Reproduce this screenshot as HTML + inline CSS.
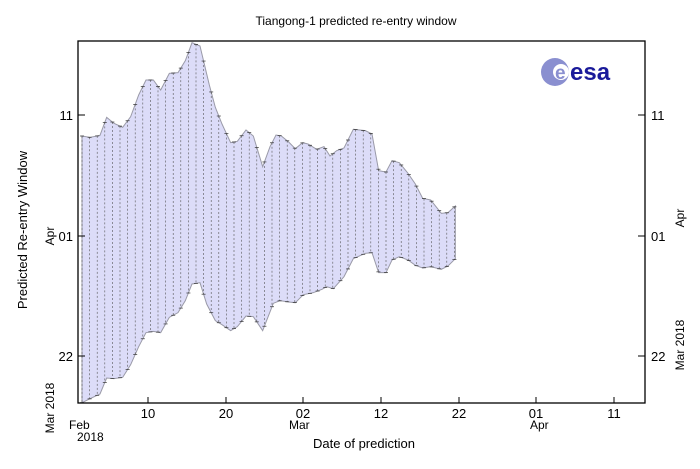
<!DOCTYPE html>
<html><head><meta charset="utf-8"><style>
body{margin:0;background:#fff;}
svg{display:block;font-family:"Liberation Sans",sans-serif;}
</style></head><body>
<svg id="s" width="700" height="469" viewBox="0 0 700 469" xmlns="http://www.w3.org/2000/svg">
<g id="plot"></g>
<rect x="78" y="41" width="567" height="362" fill="none" stroke="#000" stroke-width="1.3"/>
<text x="356" y="25" font-size="12" text-anchor="middle">Tiangong-1 predicted re-entry window</text>
<text x="364" y="448" font-size="13" text-anchor="middle">Date of prediction</text>
<text transform="translate(27,230) rotate(-90)" font-size="13" text-anchor="middle">Predicted Re-entry Window</text>
<g font-size="13">
<text x="148" y="418" text-anchor="middle">10</text>
<text x="226" y="418" text-anchor="middle">20</text>
<text x="303" y="418" text-anchor="middle">02</text>
<text x="381" y="418" text-anchor="middle">12</text>
<text x="459" y="418" text-anchor="middle">22</text>
<text x="536" y="418" text-anchor="middle">01</text>
<text x="614" y="418" text-anchor="middle">11</text>
<text x="69" y="429" font-size="12">Feb</text>
<text x="77" y="441" font-size="12">2018</text>
<text x="289" y="429" font-size="12">Mar</text>
<text x="530" y="429" font-size="12">Apr</text>
<text x="73" y="120" text-anchor="end">11</text>
<text x="73" y="241" text-anchor="end">01</text>
<text x="73" y="361" text-anchor="end">22</text>
<text x="651" y="120">11</text>
<text x="651" y="241">01</text>
<text x="651" y="361">22</text>
<text transform="translate(54,236) rotate(-90)" font-size="12" text-anchor="middle">Apr</text>
<text transform="translate(54,408) rotate(-90)" font-size="12" text-anchor="middle">Mar 2018</text>
<text transform="translate(684,218) rotate(-90)" font-size="12" text-anchor="middle">Apr</text>
<text transform="translate(684,345) rotate(-90)" font-size="12" text-anchor="middle">Mar 2018</text>
</g>
<g stroke="#000" stroke-width="1">
<line x1="148" y1="403" x2="148" y2="397"/><line x1="226" y1="403" x2="226" y2="397"/><line x1="303" y1="403" x2="303" y2="397"/><line x1="381" y1="403" x2="381" y2="397"/><line x1="459" y1="403" x2="459" y2="397"/><line x1="536" y1="403" x2="536" y2="397"/><line x1="614" y1="403" x2="614" y2="397"/>
<line x1="78" y1="115" x2="85" y2="115"/><line x1="78" y1="236" x2="85" y2="236"/><line x1="78" y1="356" x2="85" y2="356"/>
<line x1="645" y1="115" x2="638" y2="115"/><line x1="645" y1="236" x2="638" y2="236"/><line x1="645" y1="356" x2="638" y2="356"/>
</g>
<circle cx="555" cy="72" r="14" fill="#8a8fd0"/>
<circle cx="561" cy="72" r="8" fill="#fff"/>
<text x="555" y="79" font-size="19" font-weight="bold" fill="#8a8fd0">e</text>
<text x="570" y="80" font-size="24" font-weight="bold" fill="#1a1a9a">esa</text>
</svg>
<script>
var up=[[66,318],[90,322],[120,316],[140,262],[162,280],[188,292],[212,260],[236,195],[258,150],[280,150],[302,180],[328,130],[354,128],[376,92],[396,38],[420,48],[448,165],[466,232],[486,282],[512,338],[532,334],[558,300],[580,318],[608,410],[630,350],[648,315],[664,318],[686,336],[706,356],[728,338],[744,342],[770,358],[792,350],[810,378],[830,362],[852,354],[880,298],[916,302],[936,312],[956,422],[978,426],[996,392],[1018,398],[1044,430],[1066,462],[1088,505],[1112,510],[1144,550],[1164,548],[1186,528]];
var lo=[[66,1118],[90,1106],[120,1092],[140,1044],[162,1046],[188,1042],[212,1004],[236,950],[258,908],[280,904],[302,908],[328,862],[354,848],[376,812],[396,762],[420,758],[440,822],[466,872],[486,884],[512,902],[532,890],[558,858],[580,860],[608,902],[640,820],[660,812],[686,816],[706,818],[730,794],[760,788],[786,778],[800,770],[820,776],[852,740],[880,686],[916,670],[936,668],[956,728],[978,728],[996,690],[1018,680],[1044,690],[1066,706],[1088,714],[1112,710],[1144,718],[1164,708],[1186,686]];
function c(p){return [60+p[0]/3,30+p[1]/3];}
var U=up.map(c),L=lo.map(c);
var pts=U.map(function(p){return p.join(',')}).concat(L.slice().reverse().map(function(p){return p.join(',')})).join(' ');
function interp(A,x){for(var i=0;i<A.length-1;i++){if(x>=A[i][0]&&x<=A[i+1][0]){var t=(x-A[i][0])/(A[i+1][0]-A[i][0]);return A[i][1]+t*(A[i+1][1]-A[i][1]);}}return A[A.length-1][1];}
var h='<polygon points="'+pts+'" fill="#dcdcf8" stroke="#9a9aa8" stroke-width="1"/>';
for(var x=82;x<=457;x+=7.6){var y1=interp(U,x),y2=interp(L,x);
h+='<line x1="'+x+'" y1="'+y1+'" x2="'+x+'" y2="'+y2+'" stroke="#555" stroke-width="0.6" stroke-dasharray="2,2"/>';
h+='<line x1="'+(x-2)+'" y1="'+y1+'" x2="'+(x+2)+'" y2="'+y1+'" stroke="#333" stroke-width="0.7"/>';
h+='<line x1="'+(x-2)+'" y1="'+y2+'" x2="'+(x+2)+'" y2="'+y2+'" stroke="#333" stroke-width="0.7"/>';}
document.getElementById('plot').innerHTML=h;
</script>
</body></html>
